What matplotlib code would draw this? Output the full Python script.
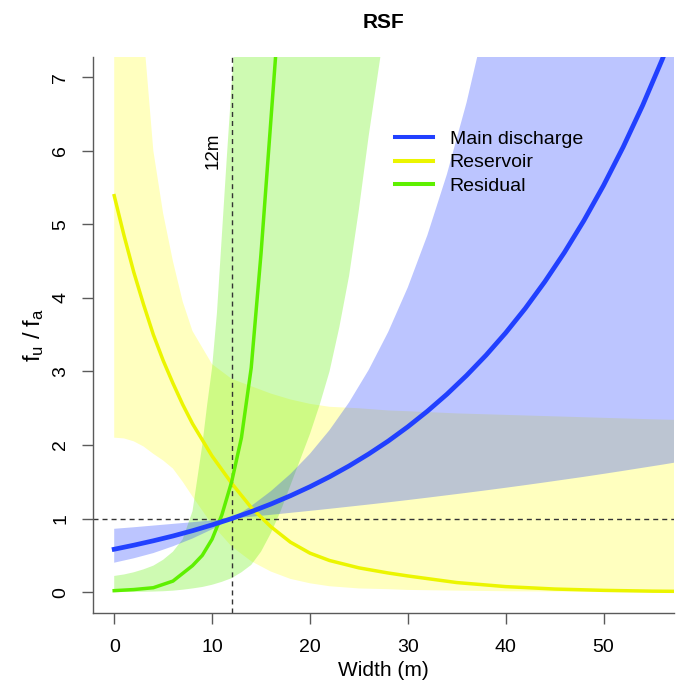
import numpy as np
import matplotlib
matplotlib.use("Agg")
import matplotlib.pyplot as plt
from matplotlib.lines import Line2D

plt.rcParams['font.family'] = ['Liberation Sans', 'DejaVu Sans']

# Main discharge
blue_x = [0, 2, 4, 6, 8, 10, 12, 14, 16, 18, 20, 22, 24, 26, 28, 30, 32, 34, 36, 38, 40,
          42, 44, 46, 48, 50, 52, 54, 56, 58]
blue_fit = [0.583, 0.638, 0.698, 0.763, 0.835, 0.914, 1.0, 1.094, 1.197, 1.31, 1.433, 1.568,
            1.716, 1.878, 2.054, 2.248, 2.46, 2.691, 2.945, 3.222, 3.525, 3.857, 4.221, 4.618,
            5.053, 5.529, 6.05, 6.619, 7.243, 7.925]
blue_hi = [0.861, 0.882, 0.905, 0.928, 0.951, 0.975, 1.0, 1.171, 1.372, 1.606, 1.881, 2.203,
           2.58, 3.021, 3.538, 4.144, 4.853, 5.683, 6.655, 7.794, 9.13, 10.7, 12.5, 14.7,
           17.2, 20.1, 23.6, 27.6, 32.4, 37.9]
blue_lo = [0.4, 0.46, 0.531, 0.623, 0.729, 0.854, 1.0, 1.025, 1.051, 1.078, 1.105, 1.133,
           1.162, 1.191, 1.221, 1.252, 1.284, 1.317, 1.35, 1.384, 1.419, 1.455, 1.492, 1.53,
           1.568, 1.608, 1.649, 1.691, 1.733, 1.777]

# Reservoir
yel_x = [0, 1, 2, 3, 4, 5, 6, 7, 8, 10, 12, 14, 16, 18, 20, 22, 25, 28, 30, 35, 40, 45, 50, 55, 58]
yel_fit = [5.39, 4.85, 4.35, 3.91, 3.5, 3.15, 2.84, 2.55, 2.29, 1.85, 1.48, 1.15, 0.89, 0.68,
           0.53, 0.43, 0.33, 0.26, 0.22, 0.13, 0.075, 0.042, 0.024, 0.013, 0.01]
yel_hi = [30, 15, 9.8, 7.6, 6.0, 5.15, 4.5, 3.95, 3.55, 3.1, 2.9, 2.8, 2.7, 2.62, 2.56, 2.52,
          2.5, 2.47, 2.46, 2.43, 2.41, 2.39, 2.37, 2.35, 2.34]
yel_lo = [2.1, 2.09, 2.05, 1.98, 1.88, 1.79, 1.68, 1.5, 1.3, 0.92, 0.62, 0.42, 0.28, 0.18,
          0.12, 0.08, 0.05, 0.04, 0.03, 0.02, 0.012, 0.008, 0.005, 0.003, 0.002]

# Residual
grn_x = [0, 2, 4, 6, 8, 9, 10, 11, 12, 13, 14, 15, 16, 17, 18, 20]
grn_fit = [0.02, 0.035, 0.06, 0.15, 0.36, 0.5, 0.72, 1.05, 1.5, 2.1, 3.05, 4.6, 6.4, 8.2, 10, 15]
grn_band_x = [0, 1, 2, 3, 4, 5, 6, 7, 8, 8.5, 9, 9.5, 10, 10.5, 11, 11.5, 12, 13, 14, 15, 16,
              17, 18, 19, 20, 21, 22, 23, 24, 25, 26, 27, 28, 30]
grn_hi = [0.22, 0.24, 0.27, 0.31, 0.36, 0.44, 0.55, 0.72, 1.1, 1.55, 2.0, 2.55, 3.05, 3.8,
          4.85, 5.9, 6.9, 8.9, 11, 13.5, 16, 19, 22, 26, 30, 35, 40, 45, 50, 55, 60, 65, 70, 80]
grn_lo = [0.0, 0.002, 0.003, 0.005, 0.008, 0.012, 0.02, 0.033, 0.05, 0.06, 0.07, 0.085, 0.1,
          0.12, 0.14, 0.165, 0.19, 0.27, 0.37, 0.55, 0.8, 1.1, 1.45, 1.8, 2.15, 2.55, 3.0, 3.6,
          4.3, 5.2, 6.2, 7.1, 8.0, 11]

labels = ['Main discharge', 'Reservoir', 'Residual']
c_blue = (0.13, 0.25, 1.0)
c_yel = (0.92, 0.96, 0.0)
c_grn = (0.37, 0.94, 0.0)
axis_col = '#5a5a5a'

fig = plt.figure(figsize=(6.86, 6.83), dpi=100)
ax = fig.add_axes([0.1351, 0.1029, 0.8474, 0.8141])

ax.fill_between(yel_x, yel_lo, yel_hi, color=(1, 1, 0), alpha=0.25, lw=0)
ax.fill_between(grn_band_x, grn_lo, grn_hi, color=c_grn, alpha=0.3, lw=0)
ax.fill_between(blue_x, blue_lo, blue_hi, color=c_blue, alpha=0.3, lw=0)

ax.axhline(1, color='#333333', lw=1.0, ls=(0, (3.6, 2.9)))
ax.axvline(12, color='#333333', lw=1.0, ls=(0, (3.6, 2.9)))

ax.plot(yel_x, yel_fit, color=c_yel, lw=2.5)
ax.plot(grn_x, grn_fit, color=c_grn, lw=2.5)
ax.plot(blue_x, blue_fit, color=c_blue, lw=3.4)

ax.text(10.07, 6.0, '12m', rotation=90, ha='center', va='center', fontsize=13.5)

ax.set_xlim(-2.2, 57.2)
ax.set_ylim(-0.28, 7.28)
ax.set_xticks([0, 10, 20, 30, 40, 50])
ax.set_yticks(range(8))

for s in ['top', 'right']:
    ax.spines[s].set_visible(False)
for s in ['left', 'bottom']:
    ax.spines[s].set_color(axis_col)
    ax.spines[s].set_linewidth(1.0)

ax.tick_params(direction='out', length=8, width=1.0, color=axis_col, labelsize=14)
ax.tick_params(axis='x', pad=11)
ax.tick_params(axis='y', pad=9, labelrotation=90)
for lab in ax.get_yticklabels():
    lab.set_va('center')

ax.set_xlabel('Width (m)', fontsize=15)
ax.xaxis.set_label_coords(0.5, -0.1045)
ax.xaxis.label.set_va('center')
ax.set_ylabel(r'$\mathregular{f_u\;/\;f_a}$', fontsize=17)
ax.yaxis.set_label_coords(-0.1017, 0.5)
ax.yaxis.label.set_va('center')

fig.text(383 / 686, 1 - 22 / 683, 'RSF', ha='center', va='center', fontsize=15, fontweight='bold')

handles = [Line2D([], [], color=c, lw=2.9) for c in [c_blue, c_yel, c_grn]]
ax.legend(handles, labels, loc='center left', bbox_to_anchor=(395 / 686, 1 - 162.5 / 683),
          bbox_transform=fig.transFigure, frameon=False, fontsize=14, handlelength=1.95,
          handletextpad=0.87, labelspacing=0.3, borderpad=0, borderaxespad=0)

fig.savefig('out.png', dpi=100)
